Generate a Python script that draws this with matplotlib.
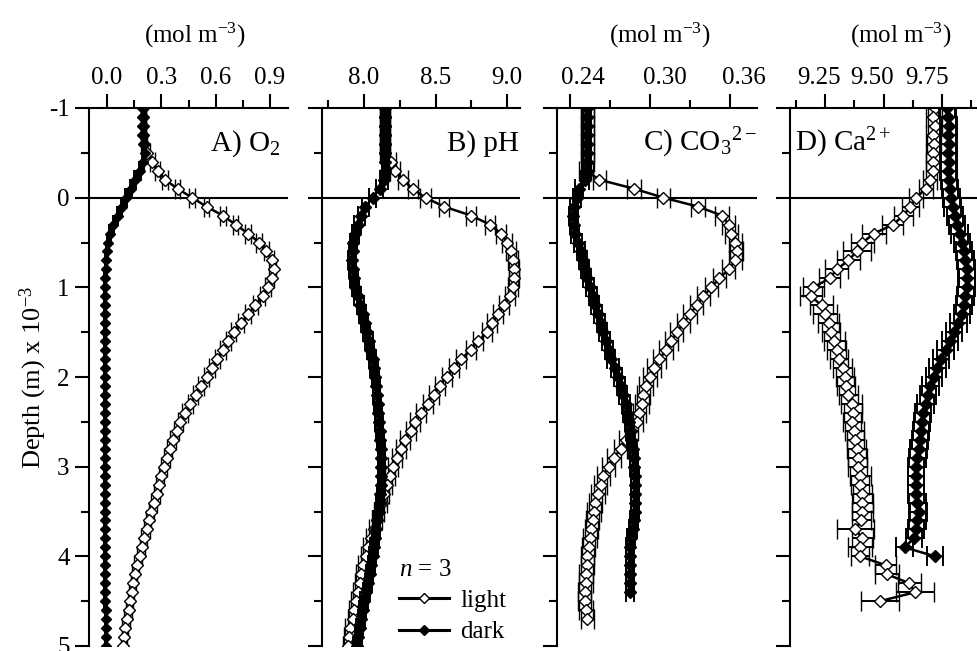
import matplotlib
matplotlib.use("Agg")
import matplotlib.pyplot as plt
import matplotlib.transforms as mtransforms
from matplotlib.lines import Line2D
from matplotlib.ticker import MultipleLocator

plt.rcParams['font.family'] = ['Liberation Serif', 'DejaVu Serif']
plt.rcParams['mathtext.fontset'] = 'custom'
plt.rcParams['mathtext.rm'] = 'Liberation Serif'
plt.rcParams['mathtext.it'] = 'Liberation Serif:italic'
plt.rcParams['axes.unicode_minus'] = False

# depth below the sediment surface, mm (x 10^-3 m)
depth = [-1.0, -0.9, -0.8, -0.7, -0.6, -0.5, -0.4, -0.3, -0.2, -0.1,
         0.0, 0.1, 0.2, 0.3, 0.4, 0.5, 0.6, 0.7, 0.8, 0.9,
         1.0, 1.1, 1.2, 1.3, 1.4, 1.5, 1.6, 1.7, 1.8, 1.9,
         2.0, 2.1, 2.2, 2.3, 2.4, 2.5, 2.6, 2.7, 2.8, 2.9,
         3.0, 3.1, 3.2, 3.3, 3.4, 3.5, 3.6, 3.7, 3.8, 3.9,
         4.0, 4.1, 4.2, 4.3, 4.4, 4.5, 4.6, 4.7, 4.8, 4.9,
         5.0]

# A) O2 (mol m-3)
o2_light = [0.20, 0.20, 0.20, 0.20, 0.205, 0.22, 0.25, 0.28, 0.32, 0.39,
            0.47, 0.55, 0.64, 0.71, 0.78, 0.84, 0.88, 0.91, 0.92, 0.91,
            0.89, 0.86, 0.82, 0.78, 0.74, 0.70, 0.67, 0.64, 0.61, 0.58,
            0.55, 0.52, 0.49, 0.46, 0.43, 0.405, 0.385, 0.365, 0.345, 0.33,
            0.315, 0.30, 0.285, 0.275, 0.26, 0.245, 0.23, 0.22, 0.205, 0.195,
            0.18, 0.163, 0.153, 0.145, 0.135, 0.128, 0.12, 0.11, 0.10, 0.095,
            0.09]
o2_dark = [0.20, 0.20, 0.20, 0.20, 0.205, 0.21, 0.20, 0.18, 0.155, 0.13,
           0.105, 0.08, 0.058, 0.035, 0.018, 0.006, 0.0, -0.005, -0.008, -0.01,
           -0.01, -0.01, -0.01, -0.01, -0.01, -0.01, -0.01, -0.01, -0.01, -0.01,
           -0.01, -0.01, -0.01, -0.01, -0.01, -0.01, -0.01, -0.01, -0.01, -0.01,
           -0.01, -0.01, -0.01, -0.01, -0.01, -0.01, -0.01, -0.01, -0.01, -0.01,
           -0.01, -0.01, -0.01, -0.01, -0.01, -0.01, -0.008, -0.008, -0.008, -0.006,
           -0.005]
o2_light_err = 0.015
o2_dark_err = 0.005

# B) pH
ph_light = [8.15, 8.15, 8.15, 8.15, 8.15, 8.15, 8.19, 8.22, 8.27, 8.34,
            8.43, 8.56, 8.75, 8.88, 8.96, 9.0, 9.03, 9.045, 9.05, 9.05,
            9.04, 9.02, 8.98, 8.94, 8.895, 8.86, 8.80, 8.745, 8.68, 8.63,
            8.58, 8.53, 8.49, 8.445, 8.40, 8.36, 8.33, 8.29, 8.26, 8.23,
            8.20, 8.18, 8.16, 8.14, 8.125, 8.105, 8.09, 8.07, 8.05, 8.03,
            8.015, 7.995, 7.98, 7.97, 7.955, 7.945, 7.93, 7.92, 7.905, 7.895,
            7.885]
ph_dark = [8.15, 8.15, 8.15, 8.15, 8.15, 8.15, 8.15, 8.15, 8.14, 8.11,
           8.06, 8.01, 7.98, 7.955, 7.94, 7.925, 7.92, 7.915, 7.92, 7.93,
           7.94, 7.955, 7.975, 7.99, 8.005, 8.02, 8.035, 8.045, 8.06, 8.07,
           8.08, 8.085, 8.09, 8.095, 8.10, 8.105, 8.11, 8.115, 8.12, 8.12,
           8.12, 8.12, 8.12, 8.115, 8.11, 8.10, 8.09, 8.085, 8.08, 8.07,
           8.06, 8.05, 8.04, 8.03, 8.015, 8.0, 7.99, 7.98, 7.97, 7.96,
           7.95]
ph_light_err = 0.035
ph_dark_err = 0.025

# C) CO3 2- (mol m-3)
co3_light = [0.253, 0.253, 0.253, 0.253, 0.253, 0.253, 0.253, 0.252, 0.262, 0.288,
             0.31, 0.336, 0.354, 0.359, 0.361, 0.364, 0.365, 0.364, 0.359, 0.352,
             0.346, 0.34, 0.335, 0.33, 0.325, 0.32, 0.316, 0.312, 0.307, 0.303,
             0.30, 0.297, 0.295, 0.294, 0.292, 0.29, 0.286, 0.282, 0.278, 0.273,
             0.269, 0.265, 0.263, 0.261, 0.259, 0.258, 0.257, 0.256, 0.255, 0.254,
             0.253, 0.253, 0.252, 0.252, 0.251, 0.251, 0.252, 0.253]
co3_dark = [0.253, 0.253, 0.253, 0.253, 0.253, 0.253, 0.253, 0.253, 0.251, 0.247,
            0.245, 0.243, 0.242, 0.243, 0.244, 0.246, 0.248, 0.25, 0.251, 0.253,
            0.255, 0.257, 0.259, 0.261, 0.263, 0.265, 0.267, 0.269, 0.271, 0.274,
            0.276, 0.278, 0.28, 0.282, 0.283, 0.284, 0.285, 0.286, 0.287, 0.288,
            0.288, 0.289, 0.289, 0.289, 0.289, 0.289, 0.288, 0.287, 0.286, 0.285,
            0.285, 0.285, 0.285, 0.285, 0.285]
co3_light_err = 0.005
co3_dark_err = 0.003

# D) Ca 2+ (mol m-3)
ca_light = [9.72, 9.71, 9.72, 9.71, 9.715, 9.71, 9.71, 9.71, 9.70, 9.68,
            9.64, 9.615, 9.585, 9.54, 9.46, 9.41, 9.385, 9.35, 9.30, 9.27,
            9.20, 9.19, 9.235, 9.25, 9.265, 9.275, 9.29, 9.30, 9.31, 9.325,
            9.335, 9.34, 9.35, 9.365, 9.37, 9.365, 9.375, 9.38, 9.385, 9.39,
            9.39, 9.40, 9.40, 9.41, 9.41, 9.41, 9.405, 9.38, 9.41, 9.40,
            9.40, 9.51, 9.515, 9.61, 9.635, 9.485]
ca_light_err = [0.03, 0.03, 0.03, 0.03, 0.03, 0.03, 0.03, 0.03, 0.03, 0.03,
                0.03, 0.035, 0.04, 0.045, 0.05, 0.05, 0.06, 0.05, 0.05, 0.045,
                0.045, 0.045, 0.05, 0.05, 0.045, 0.04, 0.045, 0.04, 0.04, 0.04,
                0.04, 0.04, 0.04, 0.045, 0.04, 0.04, 0.04, 0.035, 0.04, 0.04,
                0.04, 0.045, 0.04, 0.04, 0.045, 0.045, 0.04, 0.08, 0.045, 0.05,
                0.04, 0.045, 0.05, 0.05, 0.08, 0.08]
ca_dark = [9.77, 9.775, 9.78, 9.775, 9.78, 9.775, 9.78, 9.775, 9.78, 9.785,
           9.79, 9.795, 9.805, 9.815, 9.825, 9.835, 9.845, 9.85, 9.855, 9.857,
           9.855, 9.85, 9.845, 9.835, 9.82, 9.80, 9.785, 9.765, 9.745, 9.73,
           9.715, 9.70, 9.69, 9.68, 9.67, 9.665, 9.66, 9.655, 9.65, 9.645,
           9.64, 9.64, 9.64, 9.64, 9.645, 9.65, 9.645, 9.64, 9.63, 9.59,
           9.72]
ca_dark_err = 0.035

panels = [
    dict(light=o2_light, dark=o2_dark, lerr=o2_light_err, derr=o2_dark_err,
         xlim=(-0.1, 1.0), major=[0.0, 0.3, 0.6, 0.9], minor=[0.15, 0.45, 0.75],
         fmt='{:.1f}', unit=True, title='A) O$_2$', tpos=(0.96, 'right'),
         loff=[0, 0, 0, 0], ms_d=5.5, ux=0.53),
    dict(light=ph_light, dark=ph_dark, lerr=ph_light_err, derr=ph_dark_err,
         xlim=(7.706, 9.091), major=[8.0, 8.5, 9.0], minor=[7.75, 8.25, 8.75],
         fmt='{:.1f}', unit=False, title='B) pH', tpos=(0.995, 'right'),
         loff=[0, 0, 0], ms_d=6.5, ux=0.5),
    dict(light=co3_light, dark=co3_dark, lerr=co3_light_err, derr=co3_dark_err,
         xlim=(0.2302, 0.3802), major=[0.24, 0.30, 0.36], minor=[0.27, 0.33],
         fmt='{:.2f}', unit=True, title='C) CO$_3$$^{2-}$', tpos=(1.0, 'right'),
         loff=[13, 15, 14], ms_d=6.5, ux=0.515),
    dict(light=ca_light, dark=ca_dark, lerr=ca_light_err, derr=ca_dark_err,
         xlim=(9.1004, 9.955), major=[9.25, 9.5, 9.75], minor=[9.125, 9.375, 9.625, 9.875],
         fmt='{:.2f}', unit=True, title='D) Ca$^{2+}$', tpos=(0.025, 'left'),
         loff=[-6, -11, -15], ms_d=6.5, ux=0.555),
]

lefts = [89, 322, 557, 790]
widths = [199, 198, 200, 200]
W, H = 977, 651
top_px, bot_px = 108, 646

fig = plt.figure(figsize=(W / 100, H / 100), dpi=100)
axes = []
for i, p in enumerate(panels):
    ax = fig.add_axes([lefts[i] / W, 1 - bot_px / H, widths[i] / W, (bot_px - top_px) / H])
    axes.append(ax)
    n_l = len(p['light'])
    n_d = len(p['dark'])
    ax.errorbar(p['light'], depth[:n_l], xerr=p['lerr'], fmt='-D', color='k',
                mfc='white', mec='k', mew=1.0, ms=6, lw=1.8,
                elinewidth=1.4, capsize=7, capthick=1.4, zorder=2)
    ax.errorbar(p['dark'], depth[:n_d], xerr=p['derr'], fmt='-D', color='k',
                mfc='k', mec='k', ms=p['ms_d'], lw=1.8,
                elinewidth=1.4, capsize=7, capthick=1.4, zorder=3)
    ax.axhline(0, color='k', lw=1.5, zorder=1)

    ax.set_xlim(*p['xlim'])
    ax.set_ylim(5, -1)
    ax.xaxis.tick_top()
    ax.xaxis.set_label_position('top')
    ax.set_xticks(p['major'])
    ax.set_xticklabels([p['fmt'].format(v) for v in p['major']])
    ax.set_xticks(p['minor'], minor=True)
    ax.yaxis.set_major_locator(MultipleLocator(1))
    ax.yaxis.set_minor_locator(MultipleLocator(0.5))
    for s in ['right', 'bottom']:
        ax.spines[s].set_visible(False)
    for s in ['left', 'top']:
        ax.spines[s].set_linewidth(1.5)
    ax.tick_params(which='major', direction='out', length=10, width=1.5,
                   labelsize=18, pad=4)
    ax.tick_params(which='minor', direction='out', length=5.5, width=1.5)
    ax.tick_params(axis='y', which='both', left=True, right=False)
    if i > 0:
        ax.tick_params(axis='y', labelleft=False)
    if p['unit']:
        ax.set_xlabel('(mol m$^{-3}$)', fontsize=18, labelpad=17)
        ax.xaxis.label.set_x(p['ux'])

    for lab, off in zip(ax.get_xticklabels(), p['loff']):
        lab.set_transform(lab.get_transform() +
                          mtransforms.ScaledTranslation(off / 100, 0, fig.dpi_scale_trans))

    tx, ha = p['tpos']
    ax.text(tx, 0.92, p['title'], transform=ax.transAxes, ha=ha, va='baseline',
            fontsize=21)

axes[0].set_ylabel('Depth (m) x 10$^{-3}$', fontsize=19, labelpad=0)
axes[0].set_yticks([-1, 0, 1, 2, 3, 4, 5])
axes[0].set_yticklabels(['-1', '0', '1', '2', '3', '4', '5'])

handles = [Line2D([], [], color='k', lw=2.2, marker='D', ms=5, mfc='white', mec='k'),
           Line2D([], [], color='k', lw=2.2, marker='D', ms=5, mfc='k', mec='k')]
axes[1].legend(handles, ['light', 'dark'], title='$n$ = 3', loc='lower left',
               bbox_to_anchor=(0.39, 0.005), frameon=False, fontsize=18,
               title_fontsize=18, handlelength=2.0, handletextpad=0.45,
               labelspacing=0.35, alignment='left', borderpad=0, borderaxespad=0)

fig.savefig('out.png', dpi=100)
